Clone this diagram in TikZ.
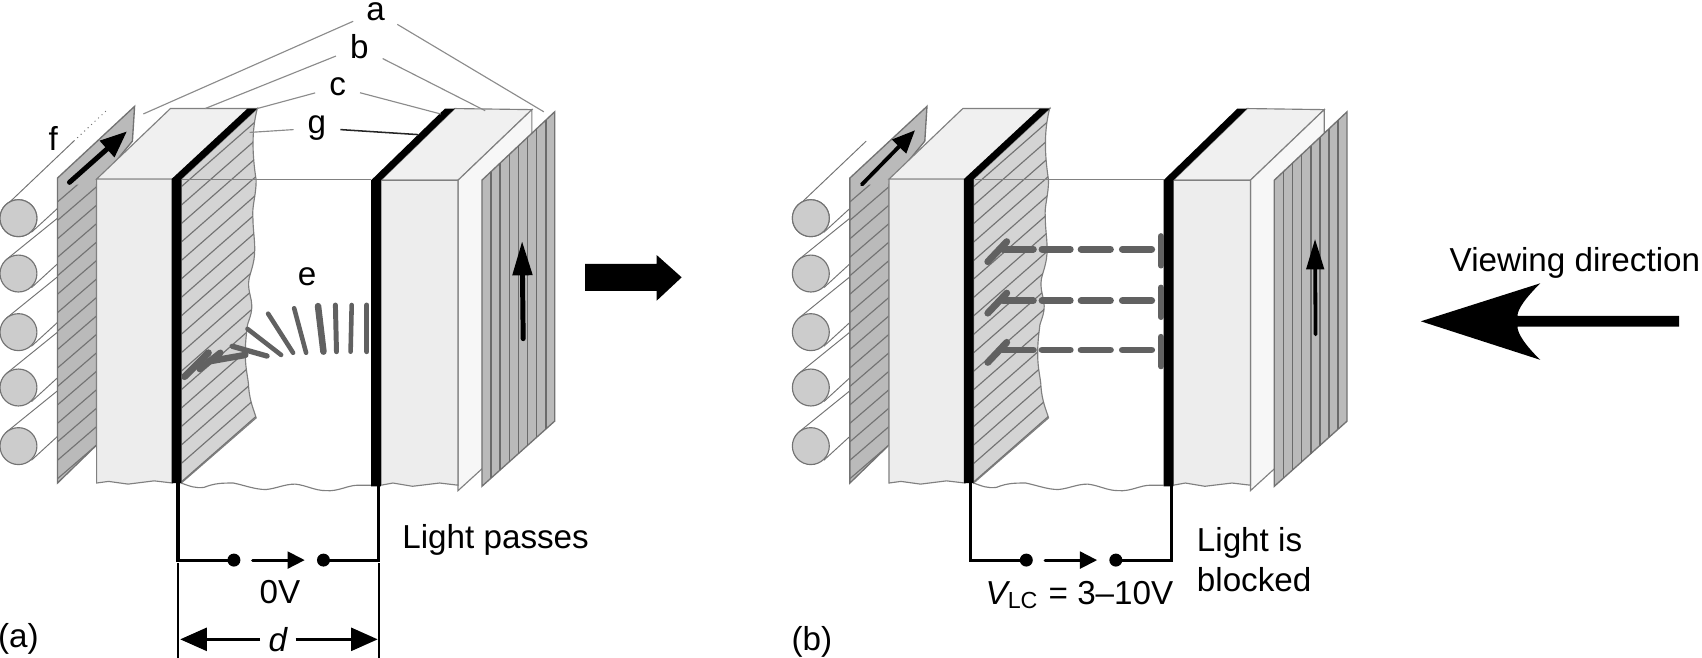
\documentclass[tikz,border=0pt]{standalone}
\usepackage{fontspec}
\setmainfont{Liberation Sans}
\usetikzlibrary{arrows.meta}
\begin{document}
\begin{tikzpicture}[
		x=0.01cm, y=-0.01cm,
		every node/.style={font=\fontsize{8.7}{10.5}\selectfont, inner sep=2pt},
		tag/.style={font=\fontsize{8.7}{10.5}\selectfont, inner sep=3.5pt},
		leader/.style={draw=black!45, line width=0.3pt},
		edge line/.style={draw=black!50, line width=0.3pt},
		ray/.style={draw=black!55, line width=0.25pt},
		pol/.style={fill=black!27, draw=black!55, line width=0.35pt},
		hatchline/.style={draw=black!55, line width=0.3pt},
		stick/.style={draw=black!62, line cap=round},
		wire/.style={draw=black, line width=0.8pt},
		plain arrow/.style={draw=black, line cap=round, -{Triangle[length=4.5pt,width=4.4pt]}},
		dim arrow/.style={draw=black, line width=0.8pt, -{Triangle[length=7pt,width=6pt]}},
		dot/.style={circle, fill=black, inner sep=0pt, minimum size=3.4pt}
		]
	\useasboundingbox (0,0) rectangle (1568,606);
	\foreach \off/\p in {0/a,730/b}{
		\begin{scope}[xshift=\off*0.01cm]
			\foreach \cy in {252,306,357,411}{
				\draw[ray] (6,\cy-13) -- (53,\cy-51);
			}
			\foreach \cy/\r in {201/1,252/2,306/3,357/4,411/5}{
				\coordinate (ray\p\r) at (53,\cy-9);
				\draw[ray] (29,\cy+13) -- (ray\p\r);
				\draw[fill=black!20, draw=black!55, line width=0.3pt] (17,\cy) circle (0.17cm);
			}
			\draw[ray] (7,188) -- (68,130);
			\draw[fill=black!20, draw=black!55, line width=0.3pt] (17,201) circle (0.17cm);
			\draw[pol] (53,164) -- (124,98) -- (122,130) -- (89,170) -- (89,410) -- (53,445) -- cycle;
			\begin{scope}
				\clip (53,170) -- (89,170) -- (89,410) -- (53,445) -- cycle;
				\foreach \h in {0,17,...,340}{
					\draw[hatchline] (53,\h+186) -- (89,\h+155);
				}
			\end{scope}
			\draw[fill=black!6, edge line] (89,165) -- (157,100) -- (237,100) -- (168,165) -- cycle;
			\draw[fill=black!7, edge line] (89,165) -- (159,165) -- (159,445) -- (142,443) -- (118,446) -- (100,443.5) -- (89,445) -- cycle;
			\draw[fill=black!17, edge line] (167,165) -- (237,100)
				.. controls (232,120) and (232,140) .. (236,166)
				.. controls (236,180) and (232,190) .. (233,200)
				.. controls (233,215) and (236,225) .. (234,239)
				.. controls (232,250) and (229,255) .. (229,261)
				.. controls (229,270) and (232,275) .. (232,282)
				.. controls (232,292) and (227,298) .. (227.5,304)
				.. controls (226,315) and (226,322) .. (226,327)
				.. controls (226,340) and (229,350) .. (229,356)
				.. controls (230,370) and (234,378) .. (236,385)
				-- (167,445) -- cycle;
			\begin{scope}
				\clip (167,165) -- (237,100)
					.. controls (232,120) and (232,140) .. (236,166)
					.. controls (236,180) and (232,190) .. (233,200)
					.. controls (233,215) and (236,225) .. (234,239)
					.. controls (232,250) and (229,255) .. (229,261)
					.. controls (229,270) and (232,275) .. (232,282)
					.. controls (232,292) and (227,298) .. (227.5,304)
					.. controls (226,315) and (226,322) .. (226,327)
					.. controls (226,340) and (229,350) .. (229,356)
					.. controls (230,370) and (234,378) .. (236,385)
					-- (167,445) -- cycle;
				\foreach \h in {0,17,...,340}{
					\draw[hatchline] (167,\h+172) -- (240,\h+108);
				}
			\end{scope}
			\draw[fill=black!6, edge line] (351,166) -- (419,100) -- (490,101) -- (422,166) -- cycle;
			\draw[fill=black!3, edge line] (422,166) -- (490,101) -- (490,390) -- (422,452) -- cycle;
			\draw[fill=black!7, edge line] (351,166) -- (422,166) -- (422,447) -- (405,445) -- (380,448) -- (362,445) -- (351,447) -- cycle;
			\draw[edge line] (168,165) -- (342,165);
			\draw[edge line] (167,445) .. controls (175,448) and (180,450) .. (188,449)
				.. controls (198,445) and (205,445) .. (215,445)
				.. controls (225,447) and (235,451) .. (245,451)
				.. controls (255,450) and (262,446) .. (272,446)
				.. controls (282,447) and (290,452) .. (300,452)
				.. controls (312,453) and (320,447) .. (330,447) -- (342,447);
			\draw[pol] (444,166) -- (511,103) -- (511,388) -- (444,448) -- cycle;
			\foreach \u in {1,...,7}{
				\draw[draw=black!58, line width=0.4pt] (444+\u*8.4,166-\u*7.9) -- (444+\u*8.4,448-\u*7.5);
			}
			\fill (158,165) -- (228,100) -- (237,100) -- (167,165) -- (167,445) -- (158,445) -- cycle;
			\fill (342,166) -- (410,100) -- (419,100) -- (351,166) -- (351,448) -- (342,448) -- cycle;
			\coordinate (elecL\p) at (164,445);
			\coordinate (elecR\p) at (349,448);
			\node[dot] (dotL\p) at (215.5,516) {};
			\node[dot] (dotR\p) at (298,516) {};
			\draw[wire, line cap=rect] (elecL\p) |- (dotL\p);
			\draw[wire, line cap=rect] (elecR\p) |- (dotR\p);
			\draw[plain arrow, line width=0.75pt, shorten <=3pt, shorten >=3pt] (dotL\p) -- (dotR\p);
		\end{scope}
	}
	% panel a
	\draw[ray, densely dotted] (68,130) -- (99,101);
	\node[inner sep=0.5pt] (lblA) at (346,10.5) {a};
	\node[tag] (lblB) at (331,43) {b};
	\node[tag] (lblC) at (311,80) {c};
	\node[tag] (lblG) at (292,118) {g};
	\node (lblE) at (283,255) {e};
	\node (lblF) at (49,128) {f};
	\coordinate (aL) at (132,105);
	\coordinate (aR) at (501,103);
	\coordinate (bL) at (189,100);
	\coordinate (bR) at (447,102);
	\coordinate (cL) at (237,100);
	\coordinate (cR) at (406,105);
	\coordinate (gL) at (230,122);
	\coordinate (gR) at (385,124);
	\draw[leader, shorten <=3pt] (lblA) -- (aL);
	\draw[leader, shorten <=3pt] (lblA) -- (aR);
	\draw[leader] (lblB) -- (bL);
	\draw[leader] (lblB) -- (bR);
	\draw[leader] (lblC) -- (cL);
	\draw[leader] (lblC) -- (cR);
	\draw[leader] (lblG) -- (gL);
	\draw[leader, draw=black!85, line width=0.4pt] (lblG) -- (gR);
	\foreach \xa/\ya/\xb/\yb/\w in {338/281/338/324/1.3,324/281/323/324/1.2,309/281/310/324/1.3,293/282/298/324/1.7,271/284/282/325/1.2,247/289/270/325/1.2,228/303/259/327/1.2,214/319/246/328/1.4,226/327/192/333/1.7,203/325/184/340/1.7,192/325/170/347/1.8}{
		\draw[stick, line width=\w pt] (\xa,\ya) -- (\xb,\yb);
	}
	\coordinate (polLa) at (64,168);
	\coordinate (polLb) at (117,121);
	\coordinate (polRa) at (482,312);
	\coordinate (polRb) at (481,222);
	\draw[draw=black, line width=1.3pt, line cap=round, -{Triangle[length=7pt,width=5.5pt]}] (polLa) -- (polLb);
	\draw[draw=black, line width=1.3pt, line cap=round, -{Triangle[length=9pt,width=5pt]}] (polRa) -- (polRb);
	\node[anchor=base] (lblZero) at (258,556) {0V};
	\node[anchor=base west, inner sep=0pt] (lblPass) at (370,505) {Light passes};
	\node (lblPa) at (17,589) {(a)};
	\coordinate (dimLa) at (164,519);
	\coordinate (dimLb) at (164,606);
	\coordinate (dimRa) at (349,519);
	\coordinate (dimRb) at (349,606);
	\draw[draw=black, line width=0.6pt] (dimLa) -- (dimLb);
	\draw[draw=black, line width=0.6pt] (dimRa) -- (dimRb);
	\node (lblD) at (256,589) {\itshape d};
	\coordinate (dimL) at (166,589);
	\coordinate (dimR) at (348,589);
	\draw[dim arrow] (lblD) -- (dimL);
	\draw[dim arrow] (lblD) -- (dimR);
	\fill (539,243) -- (605,243) -- (605,235) -- (628,255.5) -- (605,277) -- (605,268) -- (539,268) -- cycle;
	% panel b
	\coordinate (polLc) at (794,170);
	\coordinate (polLd) at (843,120);
	\coordinate (polRc) at (1212,308);
	\coordinate (polRd) at (1211.5,220);
	\draw[draw=black, line width=1pt, line cap=round, -{Triangle[length=6pt,width=5pt]}] (polLc) -- (polLd);
	\draw[draw=black, line width=1pt, line cap=round, -{Triangle[length=8pt,width=4.5pt]}] (polRc) -- (polRd);
	\foreach \ry in {229.6,277,322.4}{
		\draw[stick, line width=1.8pt] (910,\ry+11.5) -- (927.5,\ry-7);
		\draw[stick, line width=1.8pt] (924,\ry) -- (952,\ry);
		\draw[stick, line width=1.8pt] (960,\ry) -- (986,\ry);
		\draw[stick, line width=1.8pt] (996,\ry) -- (1023,\ry);
		\draw[stick, line width=1.8pt] (1034,\ry) -- (1061,\ry);
		\draw[stick, line width=1.6pt] (1069.5,\ry-12) -- (1069.5,\ry+15);
	}
	\node[anchor=base, inner sep=0pt] (lblV) at (994.5,557) {{\itshape V}\textsubscript{LC} = 3–10V};
	\node[anchor=base west, inner sep=0pt] (lblBlockA) at (1102,508) {Light is};
	\node[anchor=base west, inner sep=0pt] (lblBlockB) at (1102,545) {blocked};
	\node (lblPb) at (748,591) {(b)};
	\node[anchor=base east, inner sep=0pt] (lblView) at (1567,250) {Viewing direction};
	\fill (1309,296) -- (1419,261) .. controls (1405,275) and (1398,285) .. (1398,291) -- (1547,291) -- (1547,301) -- (1398,301) .. controls (1398,307) and (1405,318) .. (1419,331.5) -- cycle;
\end{tikzpicture}
\end{document}
